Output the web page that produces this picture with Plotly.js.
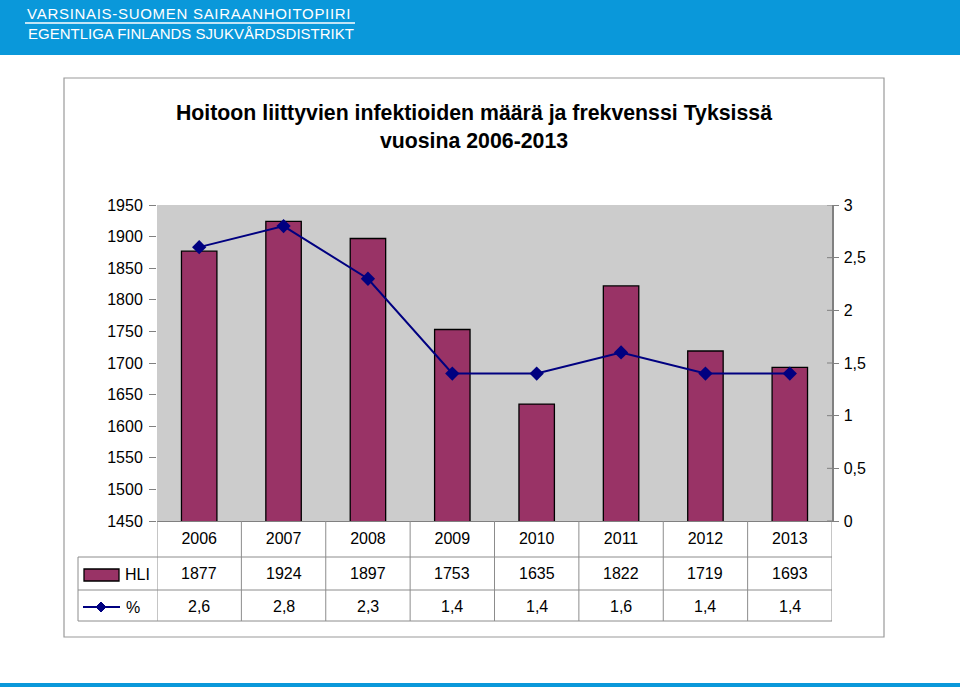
<!DOCTYPE html>
<html>
<head>
<meta charset="utf-8">
<script src="https://cdn.plot.ly/plotly-3.0.1.min.js"></script>
<style>
  body { margin: 0; background: #fff; }
  #chart { width: 960px; height: 687px; }
</style>
</head>
<body>
<div id="chart"></div>
<script>
// data
let years = ['2006', '2007', '2008', '2009', '2010', '2011', '2012', '2013'];
let hli = [1877, 1924, 1897, 1753, 1635, 1822, 1719, 1693];
let pct = [2.6, 2.8, 2.3, 1.4, 1.4, 1.6, 1.4, 1.4];

let chartTitle = 'Hoitoon liittyvien infektioiden määrä ja frekvenssi Tyksissä<br>vuosina 2006-2013';
let header1 = 'VARSINAIS-SUOMEN SAIRAANHOITOPIIRI';
let header2 = 'EGENTLIGA FINLANDS SJUKVÅRDSDISTRIKT';

// plot area in pixels
var L = 157, R = 832, T = 205, B = 521;
function px(x) { return (x - L) / (R - L); }
function py(y) { return (B - y) / (B - T); }

var font = 'Liberation Sans, Arial, sans-serif';
var gridCol = '#8c8c8c';

var trace1 = {
  x: years,
  y: hli,
  name: 'HLI',
  type: 'bar',
  marker: { color: '#993366', line: { color: '#000000', width: 1.3 } },
  hoverinfo: 'x+y'
};
var trace2 = {
  x: years,
  y: pct,
  name: '%',
  yaxis: 'y2',
  type: 'scatter',
  mode: 'lines+markers',
  line: { color: '#000080', width: 2 },
  marker: { symbol: 'diamond', size: 11, color: '#000080' }
};

var shapes = [];
var annotations = [];

// blue header band + bottom strip
shapes.push({ type: 'rect', xref: 'paper', yref: 'paper', x0: px(0), x1: px(960), y0: py(0), y1: py(55),
  fillcolor: '#0a98da', line: { width: 0 }, layer: 'below' });
shapes.push({ type: 'rect', xref: 'paper', yref: 'paper', x0: px(0), x1: px(960), y0: py(683), y1: py(687),
  fillcolor: '#0a98da', line: { width: 0 }, layer: 'below' });
shapes.push({ type: 'line', xref: 'paper', yref: 'paper', x0: px(25), x1: px(355), y0: py(23), y1: py(23),
  line: { color: '#ffffff', width: 1.5 } });

// chart frame
shapes.push({ type: 'rect', xref: 'paper', yref: 'paper', x0: px(64), x1: px(884), y0: py(78), y1: py(637),
  line: { color: '#9a9a9a', width: 1.2 }, layer: 'below' });

// data table grid
var rowLines = [557, 590, 621];
rowLines.forEach(function (y) {
  shapes.push({ type: 'line', xref: 'paper', yref: 'paper', x0: px(78), x1: 1, y0: py(y), y1: py(y),
    line: { color: gridCol, width: 1 } });
});
shapes.push({ type: 'line', xref: 'paper', yref: 'paper', x0: px(78), x1: px(78), y0: py(557), y1: py(621),
  line: { color: gridCol, width: 1 } });
for (var i = 0; i <= years.length; i++) {
  shapes.push({ type: 'line', xref: 'x', yref: 'paper', x0: i - 0.5, x1: i - 0.5, y0: 0, y1: py(621),
    line: { color: gridCol, width: 1 } });
}

// right axis ticks cross the axis line: inner halves
for (var k = 0; k <= 6; k++) {
  shapes.push({ type: 'line', xref: 'paper', yref: 'y2', x0: px(827), x1: 1, y0: k * 0.5, y1: k * 0.5,
    line: { color: '#808080', width: 1 } });
}

// legend keys in the table
shapes.push({ type: 'rect', xref: 'paper', yref: 'paper', x0: px(84), x1: px(119), y0: py(569), y1: py(581),
  fillcolor: '#993366', line: { color: '#000000', width: 1.3 } });
shapes.push({ type: 'line', xref: 'paper', yref: 'paper', x0: px(83), x1: px(120), y0: py(607), y1: py(607),
  line: { color: '#000080', width: 2 } });
var dx = 5, dy = 5, cx = 101, cy = 607;
shapes.push({ type: 'path', xref: 'paper', yref: 'paper',
  path: 'M' + px(cx) + ',' + py(cy - dy) + ' L' + px(cx + dx) + ',' + py(cy) + ' L' + px(cx) + ',' + py(cy + dy) +
        ' L' + px(cx - dx) + ',' + py(cy) + ' Z',
  fillcolor: '#000080', line: { color: '#000080', width: 1 } });

annotations.push({ text: 'HLI', xref: 'paper', yref: 'paper', x: px(123), y: py(574), xanchor: 'left', yanchor: 'middle',
  showarrow: false, font: { family: font, size: 16, color: '#000' } });
annotations.push({ text: '%', xref: 'paper', yref: 'paper', x: px(124), y: py(607), xanchor: 'left', yanchor: 'middle',
  showarrow: false, font: { family: font, size: 16, color: '#000' } });

// table values (x given as category index, since the year names look numeric)
for (var j = 0; j < years.length; j++) {
  annotations.push({ text: String(hli[j]), x: j, xref: 'x', yref: 'paper', y: py(573),
    yanchor: 'middle', showarrow: false, font: { family: font, size: 16, color: '#000' } });
  annotations.push({ text: String(pct[j]).replace('.', ','), x: j, xref: 'x', yref: 'paper', y: py(606),
    yanchor: 'middle', showarrow: false, font: { family: font, size: 16, color: '#000' } });
}

// header texts
annotations.push({ text: header1, xref: 'paper', yref: 'paper', x: px(189), y: py(13), xanchor: 'center', yanchor: 'middle',
  showarrow: false, font: { family: font, size: 15, color: '#ffffff' } });
annotations.push({ text: header2, xref: 'paper', yref: 'paper', x: px(26), y: py(33), xanchor: 'left', yanchor: 'middle',
  showarrow: false, font: { family: font, size: 15, color: '#ffffff' } });

var layout = {
  width: 960,
  height: 687,
  margin: { l: L, r: 960 - R, t: T, b: 687 - B, pad: 0 },
  paper_bgcolor: '#ffffff',
  plot_bgcolor: '#cccccc',
  showlegend: false,
  separators: ', ',
  bargap: 0.58,
  title: {
    text: chartTitle,
    x: 474 / 960,
    xanchor: 'center',
    y: 1 - 120 / 687,
    yanchor: 'middle',
    font: { family: font, size: 21.3, color: '#000', weight: 'bold' }
  },
  font: { family: font, size: 16, color: '#000' },
  xaxis: {
    type: 'category',
    range: [-0.5, years.length - 0.5],
    autorange: false,
    showline: true,
    linecolor: '#808080',
    linewidth: 1,
    ticks: '',
    showgrid: false,
    tickfont: { family: font, size: 16, color: '#000' },
    ticklabelstandoff: 3
  },
  yaxis: {
    range: [1450, 1950],
    dtick: 50,
    showgrid: false,
    zeroline: false,
    showline: false,
    ticks: 'outside',
    ticklen: 7,
    tickcolor: '#808080',
    ticklabelstandoff: 3,
    tickfont: { family: font, size: 16, color: '#000' }
  },
  yaxis2: {
    overlaying: 'y',
    side: 'right',
    range: [0, 3],
    dtick: 0.5,
    showgrid: false,
    zeroline: false,
    showline: true,
    linecolor: '#808080',
    linewidth: 1.5,
    ticks: 'outside',
    ticklen: 5,
    tickcolor: '#808080',
    ticklabelstandoff: 2,
    tickfont: { family: font, size: 16, color: '#000' }
  },
  shapes: shapes,
  annotations: annotations
};

var config = { displayModeBar: false, staticPlot: true };

Plotly.newPlot('chart', [trace1, trace2], layout, config).then(function () {
  // the first header line is letter-spaced in the original
  document.querySelectorAll('.annotation-text').forEach(function (t) {
    if (t.textContent === header1) t.style.letterSpacing = '0.7px';
  });
});
</script>
</body>
</html>
